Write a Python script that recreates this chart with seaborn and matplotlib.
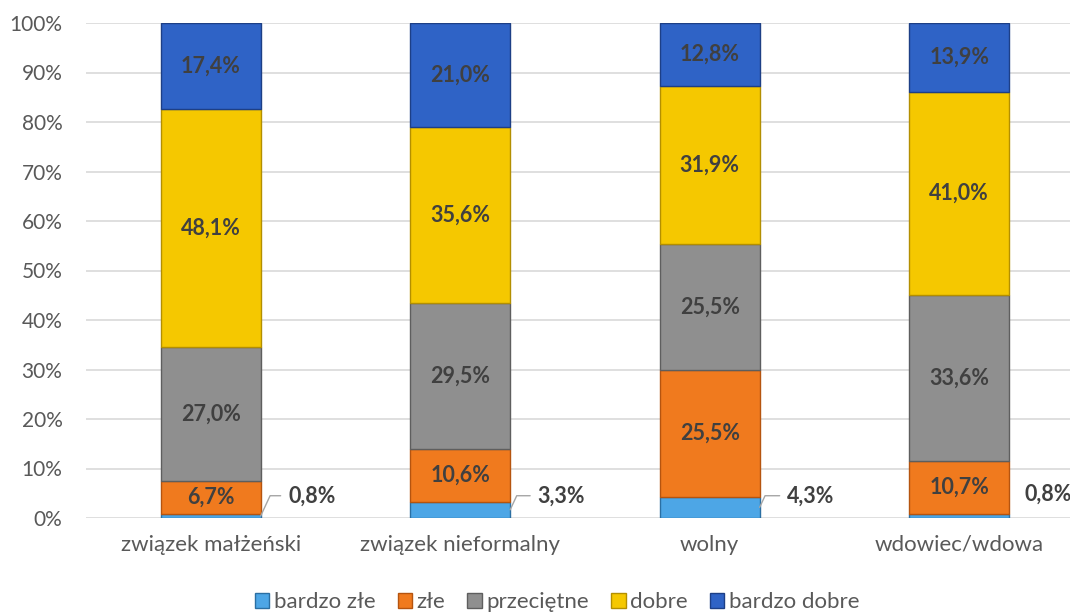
import matplotlib
matplotlib.use('Agg')
import matplotlib.pyplot as plt
import numpy as np
import seaborn as sns
from matplotlib.patches import Patch

categories = ['związek małżeński', 'związek nieformalny', 'wolny', 'wdowiec/wdowa']
series = ['bardzo złe', 'złe', 'przeciętne', 'dobre', 'bardzo dobre']
bardzo_zle = [0.8, 3.3, 4.3, 0.8]
zle = [6.7, 10.6, 25.5, 10.7]
przecietne = [27.0, 29.5, 25.5, 33.6]
dobre = [48.1, 35.6, 31.9, 41.0]
bardzo_dobre = [17.4, 21.0, 12.8, 13.9]
y_ticks = [0, 10, 20, 30, 40, 50, 60, 70, 80, 90, 100]

colors = ['#4da6e6', '#f07a1e', '#8f8f8f', '#f5c800', '#2f63c6']
edges = ['#2b6fa3', '#b5540f', '#5e5e5e', '#b38f00', '#1d3f86']

sns.set_style('white')
plt.rcParams['font.family'] = ['Lato', 'DejaVu Sans']

fig = plt.figure(figsize=(10.7, 6.12), dpi=100)
ax = fig.add_axes([86 / 1070, 94 / 612, 998 / 1070, 495 / 612])

values = [bardzo_zle, zle, przecietne, dobre, bardzo_dobre]
bottom = np.zeros(len(categories))
bar_w = 0.4
lab_size = 15.5
for s, vals in enumerate(values):
    sns.barplot(x=categories, y=vals, bottom=bottom, color=colors[s],
                width=bar_w, edgecolor=edges[s], linewidth=1.0, ax=ax,
                saturation=1, zorder=3)
    for i, v in enumerate(vals):
        if v >= 5:
            ax.text(i, bottom[i] + v / 2, f'{v:.1f}%'.replace('.', ','),
                    ha='center', va='center', fontsize=lab_size,
                    fontweight='bold', color='#404040', zorder=5)
    bottom += np.array(vals)

# small values: labels outside the bars
for i, v in enumerate(bardzo_zle):
    label = f'{v:.1f}%'.replace('.', ',')
    if i < 3:
        ax.annotate(label, xy=(i + bar_w / 2, v / 2), xytext=(i + 0.31, 4.5),
                    ha='left', va='center', fontsize=lab_size, fontweight='bold',
                    color='#404040',
                    arrowprops=dict(arrowstyle='-', color='#a6a6a6', lw=1,
                                    shrinkA=3, shrinkB=0,
                                    connectionstyle='angle,angleA=0,angleB=65'))
    else:
        ax.text(i + 0.26, 4.9, label, ha='left', va='center', fontsize=lab_size,
                fontweight='bold', color='#404040')

ax.set_xlim(-0.5, 3.5)
ax.set_ylim(0, 100)
ax.set_yticks(y_ticks)
ax.set_yticklabels([f'{t}%' for t in y_ticks])
ax.yaxis.grid(True, color='#d9d9d9', linewidth=1.2, zorder=0)
ax.set_axisbelow(True)
for sp in ax.spines.values():
    sp.set_visible(False)
ax.tick_params(axis='both', length=0, colors='#595959')
ax.tick_params(axis='x', pad=12, labelsize=16)
ax.tick_params(axis='y', pad=17, labelsize=15)
ax.set_xlabel('')
ax.set_ylabel('')

handles = [Patch(facecolor=colors[s], edgecolor=edges[s], label=series[s])
           for s in range(len(series))]
fig.legend(handles=handles, loc='center', bbox_to_anchor=(557 / 1070, 1 - 602 / 612),
           ncol=5, frameon=False, fontsize=16, handlelength=0.65,
           handleheight=0.65, handletextpad=0.2, columnspacing=1.0,
           labelcolor='#595959')

fig.savefig('out.png', dpi=100)
